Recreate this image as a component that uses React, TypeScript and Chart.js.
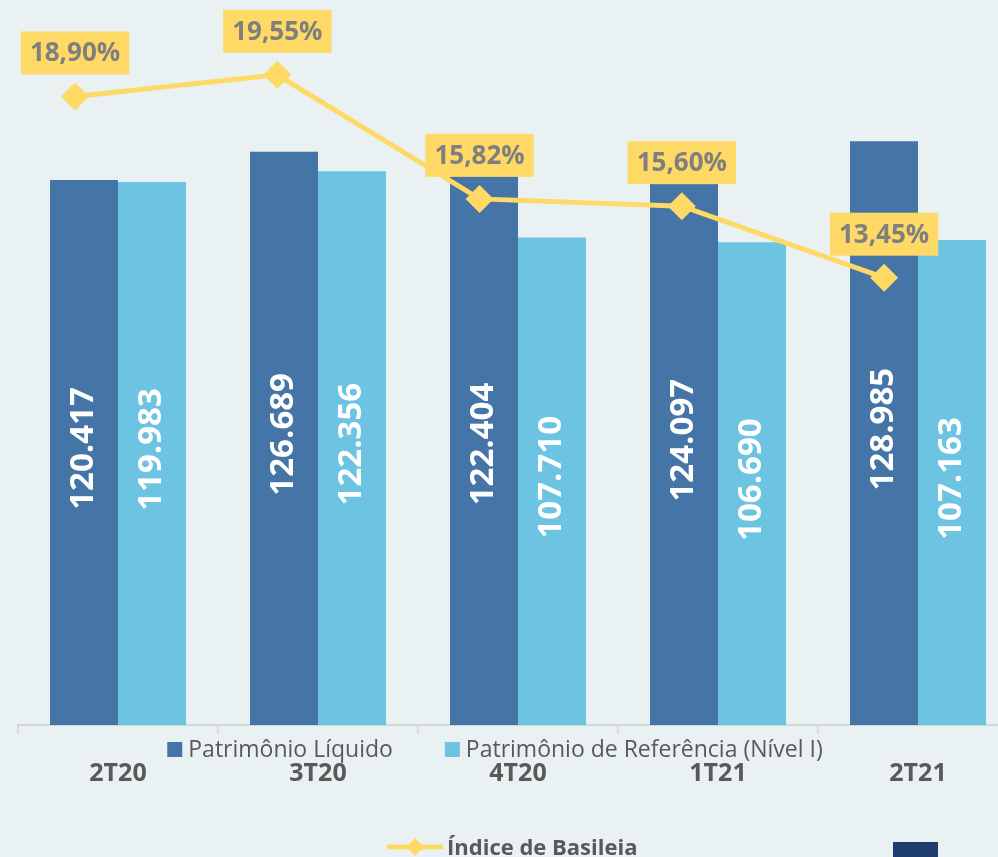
import React, { useEffect, useRef } from "react";
import { Chart, registerables } from "chart.js";

Chart.register(...registerables);

const categories = ["2T20", "3T20", "4T20", "1T21", "2T21"];
const patrimonioLiquido = [120417, 126689, 122404, 124097, 128985];
const patrimonioReferencia = [119983, 122356, 107710, 106690, 107163];
const indiceBasileia = [18.9, 19.55, 15.82, 15.6, 13.45];
const seriesNames = [
  "Patrimônio Líquido",
  "Patrimônio de Referência (Nível I)",
  "Índice de Basileia",
];

const DARK = "#4475a6";
const LIGHT = "#6dc3e2";
const YELLOW = "#ffd966";
const GRAY_TEXT = "#595959";
const LABEL_TEXT = "#7f7f7f";
const FONT = "'Open Sans', 'DejaVu Sans', sans-serif";

const W = 1018;
const H = 857;
const PAD_LEFT = 18;
const PLOT_BOTTOM = 725;

const fmtThousands = (v: number) =>
  String(v).replace(/\B(?=(\d{3})+(?!\d))/g, ".");
const fmtPct = (v: number) => v.toFixed(2).replace(".", ",") + "%";

const barPlugin = {
  id: "barLabels",
  afterDatasetsDraw(chart: any) {
    const ctx = chart.ctx as CanvasRenderingContext2D;
    [0, 1].forEach((di) => {
      const meta = chart.getDatasetMeta(di);
      const ds = chart.data.datasets[di];
      meta.data.forEach((bar: any, i: number) => {
        const { x, y, base } = bar.getProps(["x", "y", "base"], true);
        const cy = (y + base) / 2 - 4;
        ctx.save();
        ctx.translate(x, cy);
        ctx.rotate(-Math.PI / 2);
        ctx.font = `bold 33px ${FONT}`;
        ctx.fillStyle = "#ffffff";
        ctx.textAlign = "center";
        ctx.textBaseline = "middle";
        ctx.fillText(fmtThousands(ds.data[i] as number), 0, 0);
        ctx.restore();
      });
    });
  },
  afterDraw(chart: any) {
    const ctx = chart.ctx as CanvasRenderingContext2D;
    ctx.save();
    ctx.font = `23px ${FONT}`;
    ctx.textBaseline = "middle";
    ctx.textAlign = "left";
    const box = 15;
    const gapBoxText = 6;
    const gapItems = 52;
    const w1 = ctx.measureText(seriesNames[0]).width;
    const w2 = ctx.measureText(seriesNames[1]).width;
    const total = box + gapBoxText + w1 + gapItems + box + gapBoxText + w2;
    let x = 495 - total / 2;
    const rowY = 750;
    const colors = [DARK, LIGHT];
    [w1, w2].forEach((w, k) => {
      ctx.fillStyle = colors[k];
      ctx.fillRect(x, rowY - box / 2 - 0.5, box, box);
      x += box + gapBoxText;
      ctx.fillStyle = GRAY_TEXT;
      ctx.fillText(seriesNames[k], x, rowY);
      x += w + gapItems;
    });
    ctx.restore();
  },
};

const linePlugin = {
  id: "lineLabels",
  afterDatasetsDraw(chart: any) {
    const ctx = chart.ctx as CanvasRenderingContext2D;
    const meta = chart.getDatasetMeta(0);
    meta.data.forEach((pt: any, i: number) => {
      const { x, y } = pt.getProps(["x", "y"], true);
      const text = fmtPct(indiceBasileia[i]);
      ctx.save();
      ctx.font = `bold 26px ${FONT}`;
      const tw = ctx.measureText(text).width;
      const w = tw + 18;
      const h = 43;
      const bottom = y - 22;
      ctx.fillStyle = YELLOW;
      ctx.fillRect(x - w / 2, bottom - h, w, h);
      ctx.fillStyle = LABEL_TEXT;
      ctx.textAlign = "center";
      ctx.textBaseline = "middle";
      ctx.fillText(text, x, bottom - h / 2 + 1);
      ctx.restore();
    });
  },
  afterDraw(chart: any) {
    const ctx = chart.ctx as CanvasRenderingContext2D;
    ctx.save();
    const ly = 847;
    const lx0 = 387;
    const lx1 = 443;
    ctx.strokeStyle = YELLOW;
    ctx.lineWidth = 5;
    ctx.beginPath();
    ctx.moveTo(lx0, ly);
    ctx.lineTo(lx1, ly);
    ctx.stroke();
    const cx = 415;
    const r = 9;
    ctx.fillStyle = YELLOW;
    ctx.beginPath();
    ctx.moveTo(cx - r, ly);
    ctx.lineTo(cx, ly - r);
    ctx.lineTo(cx + r, ly);
    ctx.lineTo(cx, ly + r);
    ctx.closePath();
    ctx.fill();
    ctx.font = `bold 22px ${FONT}`;
    ctx.fillStyle = GRAY_TEXT;
    ctx.textBaseline = "alphabetic";
    ctx.textAlign = "left";
    ctx.fillText(seriesNames[2], 447, 855);
    ctx.restore();
  },
};

export default function App() {
  const barRef = useRef<HTMLCanvasElement>(null);
  const lineRef = useRef<HTMLCanvasElement>(null);

  useEffect(() => {
    if (!barRef.current || !lineRef.current) return;
    const barChart = new Chart(barRef.current, {
      type: "bar",
      data: {
        labels: categories,
        datasets: [
          {
            label: seriesNames[0],
            data: patrimonioLiquido,
            backgroundColor: DARK,
            categoryPercentage: 0.68,
            barPercentage: 1,
          },
          {
            label: seriesNames[1],
            data: patrimonioReferencia,
            backgroundColor: LIGHT,
            categoryPercentage: 0.68,
            barPercentage: 1,
          },
        ],
      },
      options: {
        responsive: false,
        animation: false,
        layout: {
          autoPadding: false,
          padding: { left: PAD_LEFT, right: 0, top: 0, bottom: 43 },
        },
        plugins: {
          legend: { display: false },
          tooltip: { enabled: false },
        },
        scales: {
          x: {
            offset: true,
            grid: {
              display: true,
              offset: true,
              drawOnChartArea: false,
              drawTicks: true,
              tickLength: 9,
              color: "#d3d7d9",
              lineWidth: 1.5,
            },
            border: { display: true, color: "#d3d7d9", width: 2 },
            ticks: {
              color: GRAY_TEXT,
              font: { family: FONT, size: 25, weight: "bold" },
              padding: 25,
              maxRotation: 0,
            },
          },
          y: {
            display: false,
            min: 0,
            max: 160200,
          },
        },
      } as any,
      plugins: [barPlugin],
    });

    const lineChart = new Chart(lineRef.current, {
      type: "line",
      data: {
        datasets: [
          {
            label: seriesNames[2],
            data: indiceBasileia.map((v, i) => ({ x: i, y: v })),
            borderColor: YELLOW,
            backgroundColor: YELLOW,
            borderWidth: 5,
            pointStyle: "rectRot",
            pointRadius: 14,
            pointBorderWidth: 0,
            pointBackgroundColor: YELLOW,
            tension: 0,
            clip: false,
          } as any,
        ],
      },
      options: {
        responsive: false,
        animation: false,
        layout: {
          autoPadding: false,
          padding: {
            left: PAD_LEFT,
            right: 0,
            top: 0,
            bottom: H - PLOT_BOTTOM,
          },
        },
        plugins: {
          legend: { display: false },
          tooltip: { enabled: false },
        },
        scales: {
          x: {
            type: "linear",
            display: false,
            offset: false,
            min: -0.282,
            max: 4.662,
          },
          y: {
            display: false,
            min: 0,
            max: 21.8,
          },
        },
      } as any,
      plugins: [linePlugin],
    });

    return () => {
      barChart.destroy();
      lineChart.destroy();
    };
  }, []);

  return (
    <div
      style={{
        position: "absolute",
        left: 0,
        top: 0,
        width: 998,
        height: 857,
        overflow: "hidden",
        background: "#e9f1f3",
      }}
    >
      <canvas
        ref={barRef}
        width={W}
        height={H}
        style={{ position: "absolute", left: 0, top: 0, width: W, height: H }}
      />
      <canvas
        ref={lineRef}
        width={W}
        height={H}
        style={{ position: "absolute", left: 0, top: 0, width: W, height: H }}
      />
      <div
        style={{
          position: "absolute",
          left: 893,
          top: 842,
          width: 45,
          height: 15,
          background: "#1f3c6f",
        }}
      />
    </div>
  );
}
